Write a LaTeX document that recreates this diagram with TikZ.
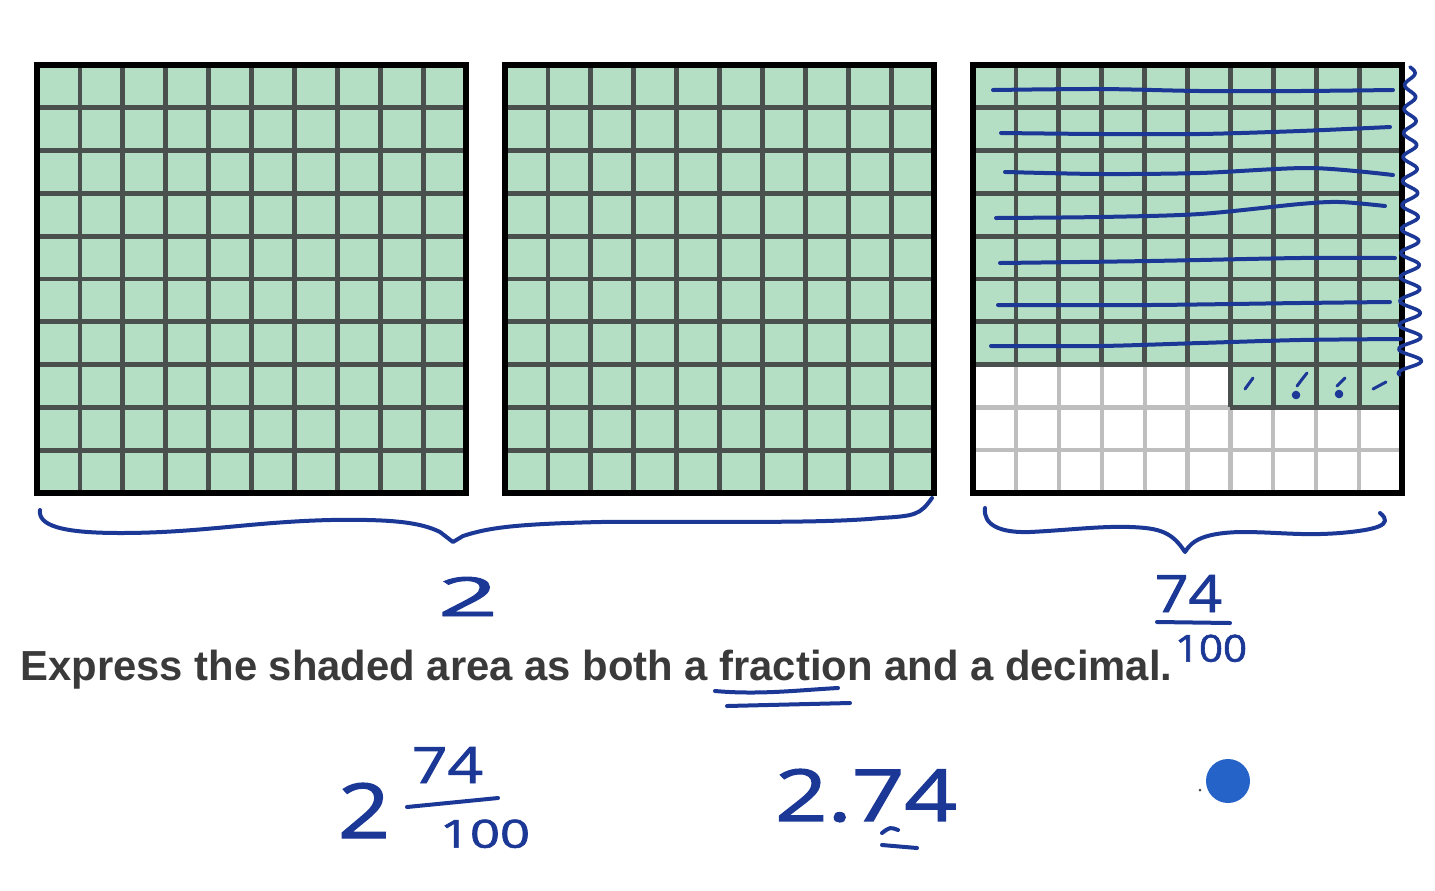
\documentclass[tikz,border=0pt]{standalone}
\usepackage{fontspec}
\setmainfont{Liberation Sans}
\newfontfamily\hwfont{Open Sans}[FakeBold=1.6]
\usepackage{graphicx}
\definecolor{gfill}{RGB}{181,223,197}
\definecolor{gline}{RGB}{74,80,77}
\definecolor{lgline}{RGB}{190,190,190}
\definecolor{ink}{RGB}{28,56,150}
\definecolor{dotblue}{RGB}{37,99,200}
\definecolor{txt}{RGB}{58,58,58}
\newlength\pxu \setlength\pxu{0.5pt}
\newcommand\hw[3]{\resizebox{#1\pxu}{#2\pxu}{\hwfont #3}}
\newcommand\fullgrid[1]{%
  \fill[gfill] (#1,65) rectangle ({#1+429},493);
  \foreach \k in {1,...,9} {
    \draw[darkgrid] ({#1+42.9*\k},65) -- ({#1+42.9*\k},493);
    \draw[darkgrid] (#1,{65+42.8*\k}) -- ({#1+429},{65+42.8*\k});
  }
  \draw[border] (#1,65) rectangle ({#1+429},493);
}
\tikzset{
  darkgrid/.style={draw=gline, line width=2.4pt},
  lightgrid/.style={draw=lgline, line width=2.1pt},
  border/.style={draw=black, line width=2.6pt},
  ink/.style={draw=ink, line width=2pt, line cap=round, line join=round},
  tally/.style={draw=ink, line width=1.5pt, line cap=round},
  hwtxt/.style={inner sep=0pt, outer sep=0pt, text=ink, anchor=south west},
}
\begin{document}
\begin{tikzpicture}[x=0.5pt,y=-0.5pt]
\useasboundingbox (0,0) rectangle (1435,890);
\fill[white] (0,0) rectangle (1435,890);
% grids 1 and 2
\fullgrid{37}
\fullgrid{505}
% grid 3
\fill[white] (973,65) rectangle (1402,493);
\fill[gfill] (973,65) rectangle (1402,364.6);
\fill[gfill] (1230.4,364.6) rectangle (1402,407.4);
\foreach \k in {1,...,9} {
  \draw[lightgrid] ({973+42.9*\k},65) -- ({973+42.9*\k},493);
  \draw[lightgrid] (973,{65+42.8*\k}) -- (1402,{65+42.8*\k});
}
\foreach \k in {1,...,7} {
  \draw[darkgrid] (973,{65+42.8*\k}) -- (1402,{65+42.8*\k});
}
\draw[darkgrid] (1230.4,407.4) -- (1402,407.4);
\foreach \k in {1,...,5} {
  \draw[darkgrid] ({973+42.9*\k},65) -- ({973+42.9*\k},364.6);
}
\foreach \k in {6,...,9} {
  \draw[darkgrid] ({973+42.9*\k},65) -- ({973+42.9*\k},407.4);
}
\draw[border] (973,65) rectangle (1402,493);
% strike lines over rows
\draw[ink] plot[smooth] coordinates {(993,90) (1100,89) (1200,91) (1300,91) (1393,90)};
\draw[ink] plot[smooth] coordinates {(1001,133) (1100,134) (1200,134) (1300,131) (1390,127)};
\draw[ink] plot[smooth] coordinates {(1005,172) (1100,174) (1200,173) (1310,168) (1393,175)};
\draw[ink] plot[smooth] coordinates {(996,218) (1100,217) (1200,214) (1300,204) (1340,202) (1385,206)};
\draw[ink] plot[smooth] coordinates {(1000,263) (1150,261) (1300,258) (1395,258)};
\draw[ink] plot[smooth] coordinates {(998,305) (1150,305) (1300,303) (1390,302)};
\draw[ink] plot[smooth] coordinates {(991,346) (1100,346) (1200,343) (1300,340) (1401,339)};
% squiggle at the right
\draw[ink, line width=1.8pt] plot[smooth, samples=160, domain=67:375] ({1410+(5+(\x-67)/45)*sin((\x-67)*15)}, \x);
% tally marks
\draw[tally] (1245,389) -- (1253,378);
\draw[tally] (1307,373) .. controls (1303,378) .. (1297,386);
\fill[ink] (1296,395) circle (2.2);
\draw[tally] (1345,378) -- (1337,386);
\fill[ink] (1339,394) circle (2.2);
\draw[tally] (1373,389) -- (1386,382);
% braces
\draw[ink] (40,510) .. controls (38,525) and (60,533) .. (120,533) .. controls (200,533) and (250,522) .. (330,520) .. controls (390,519) and (420,522) .. (440,532) -- (453,542) -- (463,536) .. controls (490,527) and (520,524) .. (600,522) .. controls (700,521) and (820,524) .. (880,518) .. controls (915,516) and (920,515) .. (932,498);
\draw[ink] (985,508) .. controls (983,525) and (1000,533) .. (1030,532) .. controls (1070,530) and (1100,526) .. (1130,527) .. controls (1160,528) and (1172,532) .. (1185,552) .. controls (1192,540) and (1205,533) .. (1240,532) .. controls (1280,532) and (1300,536) .. (1340,533) .. controls (1375,530) and (1395,525) .. (1380,513);
% handwritten numbers
\node[hwtxt] (two) at (438,616) {\hw{60}{39}{2}};
\node[hwtxt] (sfn) at (1155,612) {\hw{67}{37}{74}};
\node[hwtxt] (sfd) at (1175,662) {\hw{72}{27}{100}};
\coordinate (sfbl) at (1157,622);
\coordinate (sfbr) at (1230,623);
\draw[ink] (sfbl) -- (sfbr);
% question
\node[anchor=base west, inner sep=0pt, text=txt, font=\fontsize{21pt}{25pt}\selectfont\bfseries] (q) at (20,680) {\resizebox{576pt}{\height}{Express the shaded area as both a fraction and a decimal.}};
\draw[ink] (715,691) .. controls (760,695) and (800,690) .. (838,688);
\draw[ink] (727,706) -- (850,703);
% answers
\node[hwtxt] (mw) at (338,838) {\hw{52}{55}{2}};
\node[hwtxt] (mn) at (412,783) {\hw{71}{36}{74}};
\node[hwtxt] (md) at (440,848) {\hw{90}{28}{100}};
\coordinate (mbl) at (407,807);
\coordinate (mbr) at (498,798);
\draw[ink] (mbl) -- (mbr);
\node[hwtxt] (dec) at (775,822) {\hw{182}{52}{2.74}};
\draw[ink] (882,833) .. controls (890,827) .. (898,830);
\draw[ink] (882,845) -- (917,848);
% cursor dot
\fill[dotblue] (1228,781) circle (22);
\fill[black!70] (1200,790) circle (1.5);
\end{tikzpicture}
\end{document}
